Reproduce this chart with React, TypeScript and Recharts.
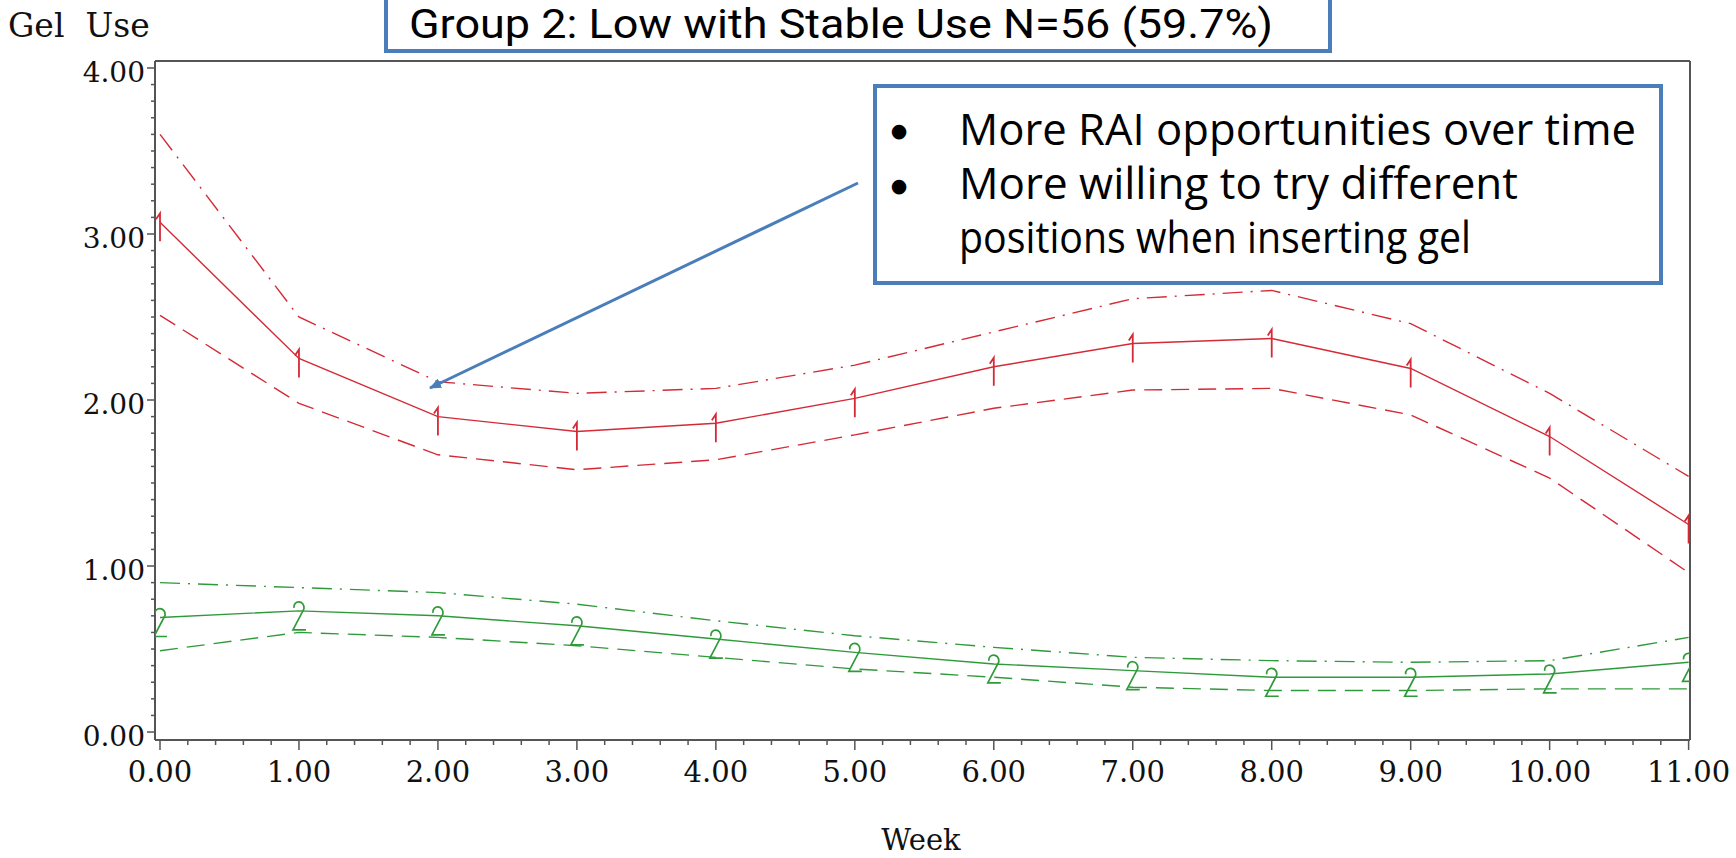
import { LineChart, Line, XAxis, YAxis, ReferenceLine } from "recharts";

// weeks on the x axis
const weeks = [0, 1, 2, 3, 4, 5, 6, 7, 8, 9, 10, 11];

// group 1 (red): mean with lower / upper confidence limits
const group1Mean = [3.07, 2.25, 1.9, 1.81, 1.86, 2.01, 2.2, 2.34, 2.37, 2.19, 1.78, 1.25];
const group1Lower = [2.51, 1.98, 1.67, 1.58, 1.64, 1.79, 1.95, 2.06, 2.07, 1.91, 1.53, 0.96];
const group1Upper = [3.6, 2.5, 2.11, 2.04, 2.07, 2.21, 2.41, 2.61, 2.66, 2.46, 2.04, 1.54];

// group 2 (green): mean with lower / upper confidence limits
const group2Mean = [0.69, 0.73, 0.7, 0.64, 0.56, 0.48, 0.41, 0.37, 0.33, 0.33, 0.35, 0.42];
const group2Lower = [0.49, 0.6, 0.57, 0.52, 0.45, 0.38, 0.33, 0.27, 0.25, 0.25, 0.26, 0.26];
const group2Upper = [0.9, 0.87, 0.84, 0.77, 0.67, 0.58, 0.51, 0.45, 0.43, 0.42, 0.43, 0.57];

const xTickLabels = ["0.00", "1.00", "2.00", "3.00", "4.00", "5.00", "6.00", "7.00", "8.00", "9.00", "10.00", "11.00"];
const yMajor = [0, 1, 2, 3, 4];
const yTickLabels = ["0.00", "1.00", "2.00", "3.00", "4.00"];

const X_DOMAIN: [number, number] = [-0.036, 11.01];
const Y_DOMAIN: [number, number] = [-0.048, 4.042];

const RED = "#d42a36";
const GREEN = "#2f9a3a";
const AXIS = "#555";
const BLUE = "#4a7ebb";
const SERIF = "'DejaVu Serif', serif";
const SANS = "'Open Sans', sans-serif";

// minor ticks: 0.2 on x, 0.1 on y
const xTicks: number[] = [];
for (let i = 0; i <= 55; i++) xTicks.push(+(i * 0.2).toFixed(1));
const yTicks: number[] = [];
for (let i = 0; i <= 40; i++) yTicks.push(+(i * 0.1).toFixed(1));

const data = weeks.map((w, i) => ({
  week: w,
  g1: group1Mean[i],
  g1lo: group1Lower[i],
  g1hi: group1Upper[i],
  g2: group2Mean[i],
  g2lo: group2Lower[i],
  g2hi: group2Upper[i],
}));

const isMajor = (v: number) => Math.abs(v - Math.round(v)) < 1e-6;

const XTick = (props: any) => {
  const { x, y, payload } = props;
  const major = isMajor(payload.value);
  const idx = weeks.indexOf(Math.round(payload.value));
  return (
    <g>
      <line x1={x} x2={x} y1={y} y2={y + (major ? 10 : 5)} stroke={AXIS} strokeWidth={1.5} />
      {major && (
        <text x={x} y={y + 42} textAnchor="middle" fontFamily={SERIF} fontSize={29} fill="#111">
          {xTickLabels[idx]}
        </text>
      )}
    </g>
  );
};

const YTick = (props: any) => {
  const { x, y, payload } = props;
  const major = isMajor(payload.value);
  const idx = yMajor.indexOf(Math.round(payload.value));
  return (
    <g>
      <line x1={x - (major ? 8 : 4)} x2={x} y1={y} y2={y} stroke={AXIS} strokeWidth={1.5} />
      {major && (
        <text x={x - 10} y={y + 14} textAnchor="end" fontFamily={SERIF} fontSize={28} fill="#111">
          {yTickLabels[idx]}
        </text>
      )}
    </g>
  );
};

// SAS-style plot symbols "1" and "2"
const OneMark = (p: any) => {
  const { cx, cy } = p;
  if (cx == null || cy == null) return <g key={p.index} />;
  return (
    <path
      key={p.index}
      d={`M${cx - 4},${cy - 3} L${cx},${cy - 9} L${cx},${cy + 19}`}
      stroke={RED}
      strokeWidth={1.8}
      fill="none"
    />
  );
};

const TwoMark = (p: any) => {
  const { cx, cy } = p;
  if (cx == null || cy == null) return <g key={p.index} />;
  return (
    <path
      key={p.index}
      d={`M${cx - 5},${cy - 3} C${cx - 6},${cy - 11} ${cx + 6},${cy - 11} ${cx + 5},${cy - 2} L${cx - 6},${cy + 19} L${cx + 7},${cy + 19}`}
      stroke={GREEN}
      strokeWidth={1.7}
      fill="none"
    />
  );
};

export default function App() {
  return (
    <div style={{ position: "absolute", left: 0, top: 0, width: 1736, height: 858, background: "#fff", overflow: "hidden" }}>
      <LineChart width={1736} height={858} data={data} margin={{ top: 61, right: 46, bottom: 0, left: 0 }}>
        <XAxis
          dataKey="week"
          type="number"
          domain={X_DOMAIN}
          allowDataOverflow
          ticks={xTicks}
          interval={0}
          tickSize={0}
          tickMargin={0}
          tickLine={false}
          tick={(p: any) => <XTick {...p} />}
          height={118}
          axisLine={{ stroke: AXIS, strokeWidth: 2 }}
        />
        <YAxis
          type="number"
          domain={Y_DOMAIN}
          allowDataOverflow
          ticks={yTicks}
          interval={0}
          tickSize={0}
          tickMargin={0}
          tickLine={false}
          tick={(p: any) => <YTick {...p} />}
          width={155}
          axisLine={{ stroke: AXIS, strokeWidth: 2 }}
        />
        <ReferenceLine y={Y_DOMAIN[1]} stroke={AXIS} strokeWidth={2} />
        <ReferenceLine x={X_DOMAIN[1]} stroke={AXIS} strokeWidth={2} />

        <Line type="linear" dataKey="g1hi" stroke={RED} strokeWidth={1.4} strokeDasharray="20 8 2 8" dot={false} activeDot={false} isAnimationActive={false} />
        <Line type="linear" dataKey="g1lo" stroke={RED} strokeWidth={1.4} strokeDasharray="18 9" dot={false} activeDot={false} isAnimationActive={false} />
        <Line type="linear" dataKey="g1" stroke={RED} strokeWidth={1.4} dot={OneMark} activeDot={false} isAnimationActive={false} />

        <Line type="linear" dataKey="g2hi" stroke={GREEN} strokeWidth={1.4} strokeDasharray="20 8 2 8" dot={false} activeDot={false} isAnimationActive={false} />
        <Line type="linear" dataKey="g2lo" stroke={GREEN} strokeWidth={1.4} strokeDasharray="18 9" dot={false} activeDot={false} isAnimationActive={false} />
        <Line type="linear" dataKey="g2" stroke={GREEN} strokeWidth={1.4} dot={TwoMark} activeDot={false} isAnimationActive={false} />
      </LineChart>

      <svg width={1736} height={858} style={{ position: "absolute", left: 0, top: 0, pointerEvents: "none" }}>
        <defs>
          <marker id="arrowHead" markerWidth="12" markerHeight="10" refX="11" refY="5" orient="auto" markerUnits="userSpaceOnUse" viewBox="0 0 12 10">
            <path d="M0,0 L12,5 L0,10 Z" fill={BLUE} />
          </marker>
        </defs>

        <text x={8} y={37} fontFamily={SERIF} fontSize={33} fill="#111" style={{ whiteSpace: "pre" }}>
          {"Gel  Use"}
        </text>
        <text x={921} y={850} textAnchor="middle" fontFamily={SERIF} fontSize={29} fill="#111">
          Week
        </text>

        <rect x={386} y={-10} width={944} height={61} fill="#fff" stroke={BLUE} strokeWidth={4} />
        <text x={409} y={38} fontFamily="Roboto, sans-serif" fontSize={40} fill="#000" textLength={864} lengthAdjust="spacingAndGlyphs">
          Group 2: Low with Stable Use N=56 (59.7%)
        </text>

        <line x1={858} y1={183} x2={430} y2={388} stroke={BLUE} strokeWidth={3} markerEnd="url(#arrowHead)" />

        <rect x={875} y={86} width={786} height={197} fill="#fff" stroke={BLUE} strokeWidth={4} />
        <g fill="#000">
          <text x={899} y={137} fontSize={19} fontFamily="'DejaVu Sans', sans-serif" textAnchor="middle">●</text>
          <text x={899} y={192} fontSize={19} fontFamily="'DejaVu Sans', sans-serif" textAnchor="middle">●</text>
        </g>
        <g fontFamily={SANS} fontSize={43} fill="#000">
          <text x={959} y={145} textLength={677} lengthAdjust="spacingAndGlyphs">More RAI opportunities over time</text>
          <text x={959} y={199} textLength={559} lengthAdjust="spacingAndGlyphs">More willing to try different</text>
          <text x={959} y={253} textLength={512} lengthAdjust="spacingAndGlyphs">positions when inserting gel</text>
        </g>
      </svg>
    </div>
  );
}
